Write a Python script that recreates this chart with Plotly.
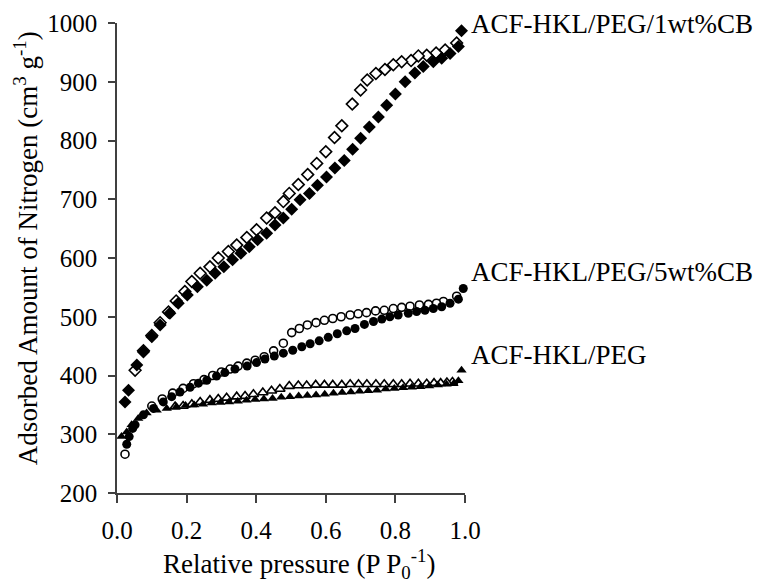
import plotly.graph_objects as go

# ACF-HKL/PEG/1wt%CB (diamonds)
cb1_ads_p = [0.023, 0.033, 0.057, 0.076, 0.100, 0.124, 0.152, 0.176, 0.202, 0.231, 0.258, 0.282,
             0.307, 0.332, 0.356, 0.380, 0.404, 0.430, 0.454, 0.478, 0.502, 0.526, 0.553, 0.576,
             0.602, 0.626, 0.653, 0.677, 0.700, 0.725, 0.751, 0.775, 0.800, 0.828, 0.856, 0.880,
             0.909, 0.933, 0.957, 0.981, 0.990]
cb1_ads_v = [355, 375, 418, 440, 466, 486, 506, 523, 537, 551, 562, 574,
             585, 597, 608, 619, 631, 642, 656, 668, 683, 699, 710, 724,
             738, 753, 766, 785, 804, 823, 840, 860, 879, 900, 915, 926,
             934, 940, 948, 960, 987]
cb1_des_p = [0.976, 0.943, 0.917, 0.890, 0.866, 0.845, 0.818, 0.794, 0.770, 0.744, 0.719, 0.700,
             0.676, 0.646, 0.625, 0.600, 0.574, 0.548, 0.521, 0.495, 0.478, 0.454, 0.430, 0.401,
             0.373, 0.344, 0.320, 0.291, 0.267, 0.239, 0.215, 0.195, 0.170, 0.148, 0.124, 0.100,
             0.076, 0.052]
cb1_des_v = [966, 954, 949, 945, 944, 936, 934, 929, 921, 914, 903, 886,
             862, 825, 805, 781, 761, 742, 725, 710, 696, 677, 668, 648,
             635, 622, 611, 600, 585, 574, 560, 543, 527, 508, 490, 468,
             442, 409]

# ACF-HKL/PEG/5wt%CB (circles)
cb5_ads_p = [0.028, 0.035, 0.045, 0.052, 0.076, 0.105, 0.133, 0.157, 0.181, 0.210, 0.234, 0.258,
             0.286, 0.310, 0.339, 0.374, 0.401, 0.425, 0.452, 0.478, 0.505, 0.531, 0.555, 0.581,
             0.607, 0.633, 0.660, 0.684, 0.711, 0.737, 0.761, 0.784, 0.808, 0.837, 0.861, 0.885,
             0.909, 0.933, 0.957, 0.981, 0.995]
cb5_ads_v = [283, 296, 310, 316, 333, 344, 355, 364, 372, 380, 387, 392,
             399, 405, 411, 416, 422, 428, 433, 438, 443, 449, 454, 459,
             465, 471, 476, 480, 487, 492, 496, 500, 503, 506, 509, 511,
             514, 517, 523, 530, 548]
cb5_des_p = [0.976, 0.938, 0.918, 0.895, 0.869, 0.842, 0.818, 0.794, 0.768, 0.743, 0.717, 0.693,
             0.670, 0.644, 0.620, 0.596, 0.572, 0.547, 0.524, 0.502, 0.478, 0.450, 0.423, 0.397,
             0.373, 0.348, 0.325, 0.300, 0.275, 0.250, 0.220, 0.190, 0.160, 0.130, 0.100, 0.023]
cb5_des_v = [535, 526, 523, 521, 520, 518, 516, 514, 511, 510, 507, 505,
             503, 500, 497, 494, 490, 486, 480, 473, 455, 442, 432, 426,
             421, 416, 411, 406, 400, 393, 386, 378, 370, 360, 348, 266]

# ACF-HKL/PEG (triangles)
peg_ads_p = [0.013, 0.028, 0.042, 0.061, 0.085, 0.114, 0.143, 0.171, 0.197, 0.222, 0.247, 0.272,
             0.297, 0.322, 0.347, 0.372, 0.397, 0.422, 0.447, 0.472, 0.497, 0.522, 0.547, 0.572,
             0.597, 0.622, 0.647, 0.672, 0.697, 0.722, 0.747, 0.772, 0.797, 0.822, 0.847, 0.872,
             0.897, 0.922, 0.947, 0.967, 0.981, 0.990]
peg_ads_v = [296, 304, 316, 327, 336, 341, 344, 347, 349, 350, 351, 353,
             354, 355, 356, 358, 359, 360, 361, 363, 364, 365, 366, 367,
             368, 370, 371, 372, 373, 374, 375, 377, 378, 379, 380, 381,
             382, 384, 385, 386, 391, 409]
peg_des_p = [0.964, 0.948, 0.930, 0.911, 0.890, 0.866, 0.842, 0.818, 0.794, 0.768, 0.744, 0.718,
             0.694, 0.670, 0.646, 0.620, 0.596, 0.571, 0.545, 0.521, 0.495, 0.468, 0.444, 0.419,
             0.392, 0.368, 0.344, 0.315, 0.291, 0.267, 0.239, 0.215, 0.190, 0.167]
peg_des_v = [389, 388, 387, 387, 386, 386, 386, 385, 385, 385, 385, 385,
             385, 385, 384, 384, 384, 384, 383, 383, 382, 377, 374, 371,
             368, 365, 364, 362, 360, 358, 355, 351, 348, 347]

labels = ["ACF-HKL/PEG/1wt%CB", "ACF-HKL/PEG/5wt%CB", "ACF-HKL/PEG"]
label_y = [998, 577, 435]

x_title = "Relative pressure (P P<sub>0</sub><sup>-1</sup>)"
y_title = "Adsorbed Amount of Nitrogen (cm<sup>3</sup> g<sup>-1</sup>)"

x_ticks = [0.0, 0.2, 0.4, 0.6, 0.8, 1.0]
y_ticks = [200, 300, 400, 500, 600, 700, 800, 900, 1000]

FONT = "'Liberation Serif', 'Times New Roman', Times, 'DejaVu Serif', serif"
fig = go.Figure()

def open_trace(p, v, sym, size):
    fig.add_trace(go.Scatter(x=p, y=v, mode="markers", cliponaxis=False,
                             marker=dict(symbol=sym, size=size, color="white",
                                         line=dict(color="black", width=1.6))))

def filled_trace(p, v, sym, size):
    fig.add_trace(go.Scatter(x=p, y=v, mode="markers", cliponaxis=False,
                             marker=dict(symbol=sym, size=size, color="black",
                                         line=dict(color="black", width=0))))

open_trace(cb1_des_p, cb1_des_v, "diamond", 9)
filled_trace(cb1_ads_p, cb1_ads_v, "diamond", 10)
open_trace(cb5_des_p, cb5_des_v, "circle", 8)
filled_trace(cb5_ads_p, cb5_ads_v, "circle", 9)
open_trace(peg_des_p, peg_des_v, "triangle-up", 9)
filled_trace(peg_ads_p, peg_ads_v, "triangle-up", 9)

for lab, ly in zip(labels, label_y):
    fig.add_annotation(x=1.0, y=ly, xref="x", yref="y", text=lab, showarrow=False,
                       xanchor="left", yanchor="middle", xshift=4,
                       font=dict(family=FONT, size=27, color="black"))

# axis titles
fig.add_annotation(x=0.523, y=0, xref="paper", yref="paper", text=x_title, showarrow=False,
                   xanchor="center", yanchor="bottom", yshift=-92,
                   font=dict(family=FONT, size=27, color="black"))
fig.add_annotation(x=0, y=0.521, xref="paper", yref="paper", text=y_title, showarrow=False,
                   textangle=-90, xanchor="center", yanchor="middle", xshift=-91,
                   font=dict(family=FONT, size=27, color="black"))

axis_common = dict(showgrid=False, zeroline=False, showline=True, linecolor="#404040",
                   linewidth=1.5, ticks="outside", tickcolor="#404040", tickwidth=1.5,
                   tickfont=dict(family=FONT, size=25, color="black"), mirror=False,
                   automargin=False)

fig.update_xaxes(range=[0, 1], tickvals=x_ticks, ticktext=[f"{t:.1f}" for t in x_ticks],
                 ticklen=8, ticklabelstandoff=6, **axis_common)
fig.update_yaxes(range=[200, 1000], tickvals=y_ticks, ticktext=[str(t) for t in y_ticks],
                 ticklen=7, ticklabelstandoff=6, **axis_common)

fig.update_layout(width=762, height=585, showlegend=False,
                  paper_bgcolor="white", plot_bgcolor="white",
                  font=dict(family=FONT),
                  margin=dict(l=117, r=297, t=23, b=92))

fig.write_html("out.html")
